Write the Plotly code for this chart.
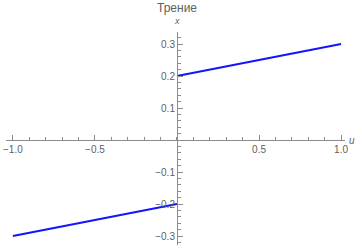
import plotly.graph_objects as go

# Data: friction law x(u), two branches
u_neg = [-1.0, 0.0]
x_neg = [-0.3, -0.2]
u_pos = [0.0, 1.0]
x_pos = [0.2, 0.3]

x_ticks = [-1.0, -0.5, 0.5, 1.0]
x_ticklabels = ["\u22121.0", "\u22120.5", "0.5", "1.0"]
y_ticks = [-0.3, -0.2, -0.1, 0.1, 0.2, 0.3]
y_ticklabels = ["\u22120.3", "\u22120.2", "\u22120.1", "0.1", "0.2", "0.3"]

title_text = "Трение"
x_label = "u"
y_label = "x"

W, H = 362, 248
ml, mr, mt, mb = 3, 17, 32, 3
xr = [-1.042, 1.024]
yr = [-0.328, 0.3375]

fig = go.Figure()
for uu, xx in [(u_neg, x_neg), (u_pos, x_pos)]:
    fig.add_trace(go.Scatter(x=uu, y=xx, mode="lines",
                             line=dict(color="#1414ff", width=2),
                             showlegend=False, hoverinfo="skip"))

axcol = "#8c8c8c"
tickfont = dict(family="Liberation Sans, Arial, sans-serif", size=10, color="#606060")

fig.update_layout(
    width=W, height=H,
    margin=dict(l=ml, r=mr, t=mt, b=mb),
    paper_bgcolor="white", plot_bgcolor="white",
    xaxis=dict(range=xr, anchor="free",
               position=(0 - yr[0]) / (yr[1] - yr[0]),
               showgrid=False, zeroline=False, showline=True,
               linecolor=axcol, linewidth=1,
               tickvals=x_ticks, ticktext=x_ticklabels,
               ticks="inside", ticklen=5, tickcolor=axcol, tickwidth=1,
               tickfont=tickfont,
               minor=dict(dtick=0.1, tick0=0, ticks="inside", ticklen=3,
                          tickcolor=axcol, showgrid=False)),
    yaxis=dict(range=yr, anchor="free",
               position=(0 - xr[0]) / (xr[1] - xr[0]),
               showgrid=False, zeroline=False, showline=True,
               linecolor=axcol, linewidth=1,
               tickvals=y_ticks, ticktext=y_ticklabels,
               ticks="inside", ticklen=5, tickcolor=axcol, tickwidth=1,
               tickfont=tickfont,
               minor=dict(dtick=0.02, tick0=0, ticks="inside", ticklen=3,
                          tickcolor=axcol, showgrid=False)),
    annotations=[
        dict(text=title_text, x=0, y=1, xref="x", yref="paper",
             yshift=24, showarrow=False, yanchor="middle",
             font=dict(family="Liberation Sans, Arial, sans-serif", size=12, color="#606060")),
        dict(text="<i>" + y_label + "</i>", x=0, y=1, xref="x", yref="paper",
             yshift=11, showarrow=False, yanchor="middle",
             font=dict(family="Liberation Sans, Arial, sans-serif", size=9, color="#606060")),
        dict(text="<i>" + x_label + "</i>", x=1, y=0, xref="paper", yref="y",
             xshift=2, showarrow=False, xanchor="left", yanchor="middle",
             font=dict(family="Liberation Sans, Arial, sans-serif", size=10, color="#606060")),
    ],
)

fig.write_html("out.html")
